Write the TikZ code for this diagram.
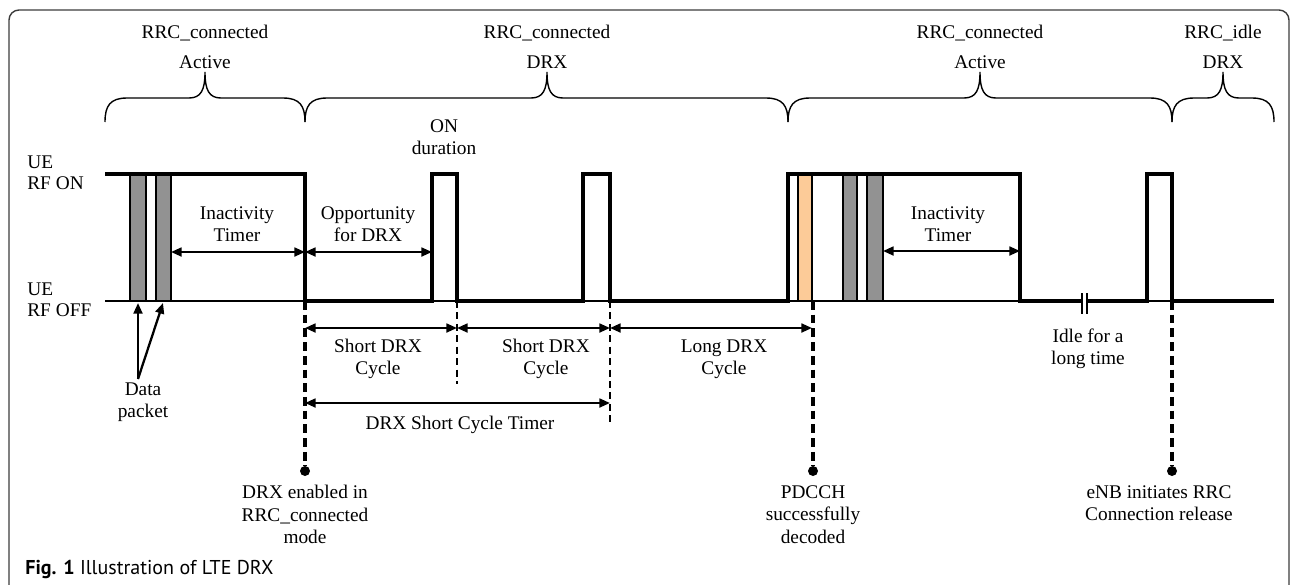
\documentclass[tikz,border=0pt]{standalone}
\usepackage{fontspec}
\setmainfont{Liberation Serif}
\newfontfamily\capfont{PT Sans}
\usetikzlibrary{arrows.meta}

\definecolor{pktgray}{RGB}{146,146,146}
\definecolor{pdcchorange}{RGB}{252,203,152}
\definecolor{framegray}{RGB}{60,60,60}

% curly brace over a state: left end, tip, right end
\newcommand{\rrcbrace}[3]{%
  \draw[brc] (#1,122) .. controls (#1,106) and ({#1+5},98) .. ({#1+22},98)
    -- ({#2-16},98) .. controls ({#2-4},98) and (#2,90) .. (#2,72)
    .. controls (#2,90) and ({#2+4},98) .. ({#2+16},98)
    -- ({#3-22},98) .. controls ({#3-5},98) and (#3,106) .. (#3,122);}

\begin{document}
\begin{tikzpicture}[x=0.02cm,y=-0.02cm,
  lbl/.style={font=\fontsize{11}{12.7}\selectfont, align=center, inner sep=0pt},
  lbll/.style={font=\fontsize{11}{12}\selectfont, align=left, inner sep=0pt, anchor=west},
  sig/.style={line width=2.6pt},
  baseln/.style={line width=0.6pt},
  pkt/.style={draw, line width=0.6pt, fill=pktgray},
  pdcch/.style={draw, line width=0.6pt, fill=pdcchorange},
  dimarr/.style={line width=1.3pt, {Triangle[length=6pt,width=5pt]}-{Triangle[length=6pt,width=5pt]}},
  ptrarr/.style={line width=1.3pt, -{Triangle[length=6pt,width=5pt]}},
  evline/.style={line width=1.9pt, dash pattern=on 5pt off 2.8pt},
  cycline/.style={line width=0.8pt, dash pattern=on 4pt off 2.5pt},
  dot/.style={circle, fill, inner sep=0pt, minimum size=0.2cm},
  brc/.style={line width=0.8pt}]

\clip (0,0) rectangle (1292,585);

% frame
\draw[framegray, line width=0.8pt, rounded corners=0.2cm] (9,10) rectangle (1289,620);

% states
\rrcbrace{105}{205}{305}
\rrcbrace{305}{547}{788}
\rrcbrace{788}{980}{1172}
\rrcbrace{1172}{1223}{1274}
\node[lbl] (st1a) at (205,33) {RRC\_connected};
\node[lbl] (st1b) at (205,62) {Active};
\node[lbl] (st2a) at (547,33) {RRC\_connected};
\node[lbl] (st2b) at (547,62) {DRX};
\node[lbl] (st3a) at (980,33) {RRC\_connected};
\node[lbl] (st3b) at (980,62) {Active};
\node[lbl] (st4a) at (1223,33) {RRC\_idle};
\node[lbl] (st4b) at (1223,62) {DRX};

% levels
\node[lbll] (on) at (27,172.5) {UE\\RF ON};
\node[lbll] (off) at (27,300) {UE\\RF OFF};
\draw[baseln] (105,301) -- (1274,301);

% packets
\filldraw[pkt] (130,174) rectangle (146,301);
\filldraw[pkt] (156,174) rectangle (171,301);
\filldraw[pdcch] (798,174) rectangle (812,301);
\filldraw[pkt] (843,174) rectangle (857,301);
\filldraw[pkt] (867,174) rectangle (883,301);

% UE radio
\draw[sig] (105,174) -- (305,174) -- (305,301) -- (432,301) -- (432,174) -- (457,174)
  -- (457,301) -- (583,301) -- (583,174) -- (610,174) -- (610,301) -- (788,301)
  -- (788,174) -- (1020,174) -- (1020,301) -- (1147,301) -- (1147,174) -- (1172,174)
  -- (1172,301) -- (1274,301);

% long idle break
\fill[white] (1082,290) rectangle (1087,316);
\draw[baseln] (1082,293) -- (1082,314);
\draw[baseln] (1087,293) -- (1087,314);

% timers
\coordinate (ia1) at (171,252);
\coordinate (ia2) at (305,252);
\coordinate (op2) at (432,252);
\coordinate (ib1) at (883,251);
\coordinate (ib2) at (1020,251);
\draw[dimarr] (ia1) -- (ia2);
\draw[dimarr] (ia2) -- (op2);
\draw[dimarr] (ib1) -- (ib2);
\node[lbl] (inact1) at (237,224) {Inactivity\\Timer};
\node[lbl] (opp) at (368,224) {Opportunity\\for DRX};
\node[lbl] (inact2) at (948,224) {Inactivity\\Timer};
\node[lbl] (ondur) at (444,137) {ON\\duration};

% cycles
\coordinate (c0) at (305,328);
\coordinate (c1) at (457,328);
\coordinate (c2) at (610,328);
\coordinate (c3) at (812,328);
\coordinate (sct1) at (305,403);
\coordinate (sct2) at (610,403);
\draw[cycline] (457,301) -- (457,384);
\draw[cycline] (610,301) -- (610,423);
\draw[dimarr] (c0) -- (c1);
\draw[dimarr] (c1) -- (c2);
\draw[dimarr] (c2) -- (c3);
\draw[dimarr] (sct1) -- (sct2);
\node[lbl] (sc1) at (378,359) {Short DRX\\Cycle};
\node[lbl] (sc2) at (546,359) {Short DRX\\Cycle};
\node[lbl] (lc) at (724,359) {Long DRX\\Cycle};
\node[lbl] (sct) at (460,425) {DRX Short Cycle Timer};

% data packet pointers
\node[lbl] (data) at (143,402) {Data\\packet};
\coordinate (dp) at (138,379);
\coordinate (pk1) at (138,303);
\coordinate (pk2) at (163,303);
\draw[ptrarr] (dp) -- (pk1);
\draw[ptrarr] (dp) -- (pk2);

% events
\node[dot] (ev1) at (305,471) {};
\node[dot] (ev2) at (813,471) {};
\node[dot] (ev3) at (1172,471) {};
\draw[evline] (305,301) -- (ev1);
\draw[evline] (813,301) -- (ev2);
\draw[evline] (1172,301) -- (ev3);
\node[lbl] (ev1t) at (305,514.5) {DRX enabled in\\RRC\_connected\\mode};
\node[lbl] (ev2t) at (813,514.5) {PDCCH\\successfully\\decoded};
\node[lbl] (ev3t) at (1159,503.5) {eNB initiates RRC\\Connection release};
\node[lbl] (idle) at (1088,349) {Idle for a\\long time};

% caption
\node[anchor=west, inner sep=0pt, font=\capfont\fontsize{11.4}{13}\selectfont] (cap) at (25,569)
  {\textbf{Fig. 1} Illustration of LTE DRX};

\end{tikzpicture}
\end{document}
